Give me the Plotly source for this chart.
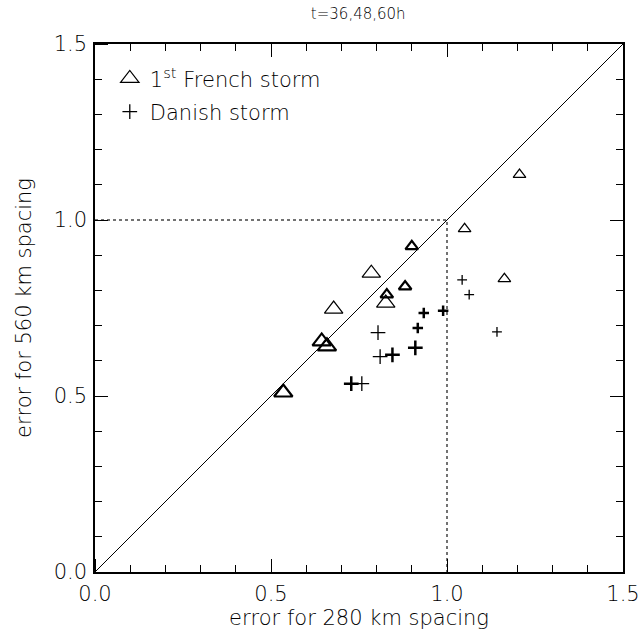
import plotly.graph_objects as go

# ---- data ----
title_text = "t=36,48,60h"
x_title = "error for 280 km spacing"
y_title = "error for 560 km spacing"

# 1st French storm (triangles)
fr_a_x = [0.535, 0.644, 0.659]
fr_a_y = [0.510, 0.655, 0.641]
fr_b_x = [0.678, 0.785, 0.826]
fr_b_y = [0.747, 0.849, 0.764]
fr_c_x = [0.829, 0.881, 0.900]
fr_c_y = [0.788, 0.811, 0.925]
fr_d_x = [1.050, 1.163, 1.206]
fr_d_y = [0.975, 0.833, 1.129]

# Danish storm (crosses)
dk_a_x = [0.728, 0.845, 0.910]
dk_a_y = [0.535, 0.617, 0.637]
dk_b_x = [0.758, 0.810, 0.804]
dk_b_y = [0.535, 0.612, 0.680]
dk_c_x = [0.917, 0.934, 0.989]
dk_c_y = [0.693, 0.736, 0.742]
dk_d_x = [1.043, 1.063, 1.142]
dk_d_y = [0.830, 0.788, 0.682]

diag_x = [0.0, 1.5]
diag_y = [0.0, 1.5]
ref_x = [0.0, 1.0, 1.0]
ref_y = [1.0, 1.0, 0.0]

FONT = "DejaVu Sans"
fig = go.Figure()

# diagonal drawn on the overlay axes (identical ranges) so they are rendered
fig.add_trace(go.Scatter(x=diag_x, y=diag_y, mode="lines", xaxis="x2", yaxis="y2",
                         line=dict(color="black", width=1), showlegend=False, hoverinfo="skip"))
fig.add_trace(go.Scatter(x=ref_x, y=ref_y, mode="lines",
                         line=dict(color="#444", width=1.5, dash="dot"), showlegend=False, hoverinfo="skip"))

def tri(x, y, size, lw, name=None, show=False):
    fig.add_trace(go.Scatter(x=x, y=y, mode="markers", name=name, showlegend=show,
                             legendgroup="fr",
                             marker=dict(symbol="triangle-up-open", size=size, color="black",
                                         line=dict(color="black", width=lw))))

def crs(x, y, size, lw, name=None, show=False):
    fig.add_trace(go.Scatter(x=x, y=y, mode="markers", name=name, showlegend=show,
                             legendgroup="dk",
                             marker=dict(symbol="cross-thin-open", size=size, color="black",
                                         line=dict(color="black", width=lw))))

tri(fr_b_x, fr_b_y, 16, 1.2, "1<sup>st</sup> French storm", True)
tri(fr_a_x, fr_a_y, 16, 2.2)
tri(fr_c_x, fr_c_y, 11, 2.2)
tri(fr_d_x, fr_d_y, 11, 1.2)

crs(dk_b_x, dk_b_y, 10.5, 1.3, "Danish storm", True)
crs(dk_a_x, dk_a_y, 10.5, 2.5)
crs(dk_c_x, dk_c_y, 7.5, 2.5)
crs(dk_d_x, dk_d_y, 7, 1.3)

tick_font = dict(family=FONT, size=21, color="black", weight=200)
title_font = dict(family=FONT, size=21, color="black", weight=200)

main_axis = dict(range=[0, 1.5], tickmode="linear", tick0=0, dtick=0.5, tickformat=".1f",
                 showgrid=False, zeroline=False, showline=True, linecolor="black", linewidth=1.5,
                 ticks="inside", ticklen=13, tickwidth=1, tickcolor="black", mirror="ticks",
                 minor=dict(tickmode="linear", tick0=0, dtick=0.1, ticks="inside", ticklen=7,
                            tickcolor="black", tickwidth=1, showgrid=False),
                 tickfont=tick_font, automargin=False)

# overlay axes: carry the long (major) inside ticks
over_axis = dict(range=[0, 1.5], tickmode="array", tickvals=[], showticklabels=False,
                 showgrid=False, zeroline=False, showline=False, ticks="", mirror="ticks",
                 minor=dict(tickmode="linear", tick0=0, dtick=0.5, ticks="inside", ticklen=13,
                            tickcolor="black", tickwidth=1, showgrid=False),
                 automargin=False)

fig.update_layout(
    template="simple_white",
    width=642, height=637,
    margin=dict(l=95, r=19, t=44, b=65, autoexpand=False),
    paper_bgcolor="white", plot_bgcolor="white",
    title=dict(text=title_text, x=0.558, xanchor="center", y=0.978, yanchor="middle",
               font=dict(family=FONT, size=15, color="black", weight=200)),
    xaxis=dict(**main_axis, ticklabelstandoff=2,
               title=dict(text=x_title, standoff=2, font=title_font)),
    yaxis=dict(**main_axis, ticklabelstandoff=2,
               title=dict(text=y_title, standoff=16, font=title_font)),
    xaxis2=dict(**over_axis, overlaying="x", side="bottom", anchor="y"),
    yaxis2=dict(**over_axis, overlaying="y", side="left", anchor="x"),
    legend=dict(x=0.028, y=0.973, xanchor="left", yanchor="top",
                bgcolor="rgba(0,0,0,0)", font=dict(family=FONT, size=21, color="black", weight=200),
                tracegroupgap=3, itemsizing="trace"),
    showlegend=True,
)

fig.write_html("out.html",
               config={"displayModeBar": False},
               post_script="document.body.style.margin='0px'; document.body.style.overflow='hidden';")
